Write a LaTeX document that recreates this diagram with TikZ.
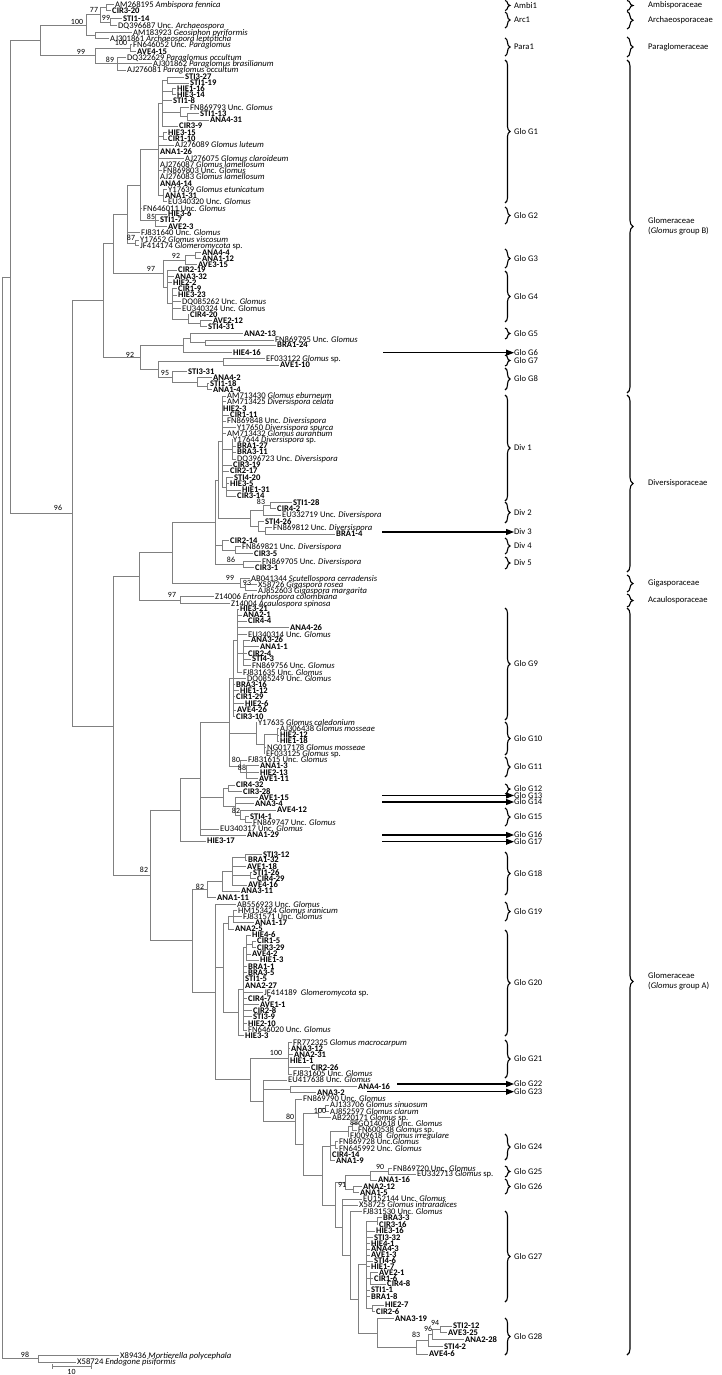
\documentclass[tikz,border=0pt]{standalone}
\usepackage{fontspec}
\setmainfont{Carlito}
\usetikzlibrary{arrows.meta,decorations.pathreplacing}

\tikzset{
  br/.style={draw=black!50,line width=0.55pt},
  leaf/.style={inner sep=0pt,font=\fontsize{8.6}{9}\selectfont},
  clone/.style={inner sep=0pt,font=\fontsize{8.6}{9}\selectfont\bfseries},
  bs/.style={inner sep=0pt,font=\fontsize{7.9}{9}\selectfont},
  glab/.style={inner sep=0pt,anchor=west,font=\fontsize{8.6}{9}\selectfont},
  flab/.style={inner sep=0pt,anchor=west,align=left,font=\fontsize{8.6}{10}\selectfont},
  gbrace/.style={decorate,decoration={brace,amplitude=5pt},line width=1.1pt},
  fbrace/.style={decorate,decoration={brace,amplitude=6pt},line width=1.1pt},
  arr/.style={line width=1.1pt,-{Triangle[length=8pt,width=6pt]}},
}

\begin{document}
\begin{tikzpicture}[x=1pt,y=-1pt]
\useasboundingbox (0,0) rectangle (722,1375);

% vertical branches
\foreach \vx/\ya/\yb in {106/4.7/10.7,110/18.3/25.3,100/7.7/21.8,95/32.7/38.7,86/14.7/35.7,130/44.3/51.3,117/57.3/70,95/47.8/63.6,40/25.2/55.7,
 167/77/83,172/88.7/94.7,187/113.3/120,180/107.3/116.7,162/80/126,163/132.7/139,163/189.3/201.7,158/103/195.5,155/214/226.7,140/149.3/220.3,135/240/245.7,127/184.8/242.8,195/252.3/258.3,185/255.3/264.3,200/320.7/326.7,188/314.3/323.7,172/288.3/319,167/270/303.7,163/259.8/286.8,113/213.8/273.3,
 205/340/345,190/333.3/342.5,183/337.9/352.7,223/358.3/365,207/383.3/389.3,197/377.3/386.3,172/371.7/381.8,158/361.7/376.8,140/345.3/369.2,103/243.5/357.3,
 232/439.3/459,226/477.7/496,222/396/486.9,270/502.7/508.3,263/505.5/515,265/527.7/534,258/521.7/530.8,250/510.3/526.3,218/441.5/518.3,235/546.7/553.3,222/540.7/550,243/561.7/567.7,215/479.9/564.7,
 245/584.3/590.7,240/578.3/587.5,180/596.7/603.3,172/522.3/583,139/552.7/600,
 243/640/665.7,237/609/672.3,233/640.7/716.7,277/728.3/741,264/734.7/753.3,256/722.3/744,246/765.7/778.3,240/760/772,229/678.7/766,
 228/785/791.7,245/816.7/822.3,240/810/819.5,235/797.7/814.8,223/788.4/806.3,200/722.4/835,180/778.7/841,
 245/854.3/860,250/872.7/878.3,232/857.2/885,222/871.1/891,207/881.1/897.7,233/910.7/922.7,228/916.7/929,252/941/947.7,246/935/960,243/947.5/1030,238/988.8/1035.7,223/922.9/1012.3,
 215/904.3/1079.5,192/889.4/991.9,150/809.9/940.7,
 288/1042.3/1074,290/1086.7/1092.7,325/1105/1111.7,318/1108.4/1117.3,352/1123.3/1130,348/1126.7/1136,335/1141.7/1148.3,330/1131.4/1160.7,388/1168.3/1174,370/1171.2/1180,353/1186.7/1192.3,345/1175.6/1189.5,
 377/1217.7/1224.3,370/1272.7/1284,372/1305/1311.5,366/1221/1308.3,440/1326/1332.4,432/1329.2/1339.5,428/1334.4/1346.7,416/1340.6/1354,377/1318.7/1347.3,358/1264.7/1333,350/1211.7/1298.9,342/1199/1255.3,335/1182.6/1227.2,322/1146.1/1204.9,303/1112.9/1175.5,295/1099/1144.2,263/1080/1121.6,250/1058.2/1100.8,
 113/576.4/875.3,72/300.4/725.9,10/40.5/513.2,2/276.9/1358.7,38/1355.5/1362}
  \draw[br] (\vx,\ya) -- (\vx,\yb);

% inner horizontal branches
\foreach \xa/\xb/\hy in {100/106/7.7,100/110/21.8,86/100/14.7,86/95/35.7,95/130/47.8,95/117/63.6,40/86/25.2,40/95/55.7,10/40/40.5,
 162/167/80,162/172/91.7,162/180/112,180/187/116.7,158/162/103,158/163/135.8,158/163/195.5,140/158/149.3,140/155/220.3,127/140/184.8,127/135/242.8,113/127/213.8,185/195/255.3,163/185/259.8,188/200/323.7,172/188/319,167/172/303.7,163/167/286.8,113/163/273.3,103/113/243.5,
 190/205/342.5,183/190/337.9,158/223/361.7,197/207/386.3,172/197/381.8,158/172/376.8,140/183/345.3,140/158/369.2,103/140/357.3,
 222/232/449.2,222/226/486.9,263/270/505.5,250/263/510.3,258/265/530.8,250/258/526.3,218/222/441.5,218/250/518.3,222/235/550,215/218/479.9,215/222/545.3,215/243/564.7,
 240/245/587.5,172/240/583,172/215/522.3,139/172/552.7,139/180/600,
 237/243/652.9,233/237/640.7,264/277/734.7,256/264/744,229/256/733.2,240/246/772,229/240/766,229/233/678.7,200/229/722.4,
 223/228/788.4,240/245/819.5,235/240/814.8,223/235/806.3,200/223/797.4,180/200/778.7,150/180/809.9,
 232/245/857.2,232/250/875.5,222/232/871.1,207/222/881.1,192/207/889.4,228/233/916.7,223/228/922.9,246/252/944.4,243/246/947.5,238/243/988.8,223/238/1012.3,215/223/967.6,215/250/1079.5,192/215/991.9,150/192/940.7,
 250/288/1058.2,263/290/1089.7,318/325/1108.4,303/318/1112.9,348/352/1126.7,330/348/1131.4,330/335/1145,322/330/1146.1,370/388/1171.2,345/370/1175.6,345/353/1189.5,335/345/1182.6,
 366/377/1221,366/370/1278.4,366/372/1308.3,432/440/1329.2,428/432/1334.4,416/428/1340.6,377/416/1347.3,358/366/1264.7,358/377/1333,350/358/1298.9,342/350/1255.3,335/342/1227.2,322/335/1204.9,303/322/1175.5,295/303/1144.2,263/295/1121.6,250/263/1100.8,
 113/139/576.4,113/150/875.3,72/103/300.4,72/113/725.9,10/72/513.2,2/10/276.9,2/38/1358.7}
  \draw[br] (\xa,\hy) -- (\xb,\hy);

% reference sequences
\foreach \px/\lx/\ly/\txt [count=\i] in {
 106/115/4.7/{AM268195 \textit{Ambispora fennica}},
 110/118/25.3/{DQ396687 Unc. \textit{Archaeospora}},
 95/133/32.7/{AM183923 \textit{Geosiphon pyriformis}},
 95/110/38.7/{AJ301861 \textit{Archaeospora leptoticha}},
 130/133/44.3/{FN646052 Unc. \textit{Paraglomus}},
 117/127/57.3/{DQ322629 \textit{Paraglomus occultum}},
 117/153/63.3/{AJ301862 \textit{Paraglomus brasilianum}},
 117/127/70/{AJ276081 \textit{Paraglomus occultum}},
 180/190/107.3/{FN869793 Unc. \textit{Glomus}},
 158/175/145/{AJ276089 \textit{Glomus luteum}},
 158/185/158.3/{AJ276075 \textit{Glomus claroideum}},
 158/160/164.3/{AJ276087 \textit{Glomus lamellosum}},
 158/163/170.7/{FN869803 Unc. \textit{Glomus}},
 158/160/176.7/{AJ276083 \textit{Glomus lamellosum}},
 163/168/189.3/{Y17639 \textit{Glomus etunicatum}},
 163/168/201.7/{EU340320 Unc. \textit{Glomus}},
 140/143/208.3/{FN646011 Unc. \textit{Glomus}},
 127/141/232.3/{FJ831640 Unc. \textit{Glomus}},
 135/140/240/{Y17652 \textit{Glomus viscosum}},
 135/140/245.7/{JF414174 \textit{Glomeromycota} sp.},
 172/182/301.7/{DQ085262 Unc. \textit{Glomus}},
 172/182/308.3/{EU340324 Unc. Glomus},
 205/275/340/{FN869795 Unc. \textit{Glomus}},
 223/266/358.3/{EF033122 \textit{Glomus} sp.},
 222/227/396/{AM713430 \textit{Glomus eburneum}},
 222/227/401.7/{AM713425 \textit{Diversispora celata}},
 222/227/421/{FN869848 Unc. \textit{Diversispora}},
 222/237/427.3/{Y17650 \textit{Diversispora spurca}},
 222/227/433.3/{AM713432 \textit{Glomus aurantium}},
 232/233/439.3/{Y17644 \textit{Diversispora} sp.},
 232/237/459/{DQ396723 Unc. \textit{Diversispora}},
 263/282/515/{EU332719 Unc. \textit{Diversispora}},
 265/273/527.7/{FN869812 Unc. \textit{Diversispora}},
 235/242/546.7/{FN869821 Unc. \textit{Diversispora}},
 243/262/561.7/{FN869705 Unc. \textit{Diversispora}},
 240/251/578.3/{AB041344 \textit{Scutellospora cerradensis}},
 245/258/584.3/{X58726 \textit{Gigaspora rosea}},
 245/258/590.7/{AJ852603 \textit{Gigaspora margarita}},
 180/215/596.7/{Z14006 \textit{Entrophospora colombiana}},
 180/231/603.3/{Z14004 \textit{Acaulospora spinosa}},
 237/248/634.3/{EU340314 Unc. \textit{Glomus}},
 243/252/665.7/{FN869756 Unc. \textit{Glomus}},
 237/243/672.3/{FJ831635 Unc. \textit{Glomus}},
 233/247/678.3/{DQ085249 Unc. \textit{Glomus}},
 256/258/722.3/{Y17635 \textit{Glomus caledonium}},
 277/280/728.3/{AJ306438 \textit{Glomus mosseae}},
 264/267/747.3/{NG017178 \textit{Glomus mosseae}},
 264/266/753.3/{EF033125 \textit{Glomus} sp.},
 240/248/760/{FJ831615 Unc. \textit{Glomus}},
 245/253/822.3/{FN869747 Unc. \textit{Glomus}},
 200/220/829/{EU340317 Unc. \textit{Glomus}},
 215/237/904.3/{AB556923 Unc. \textit{Glomus}},
 233/238/910.7/{HM153424 \textit{Glomus iranicum}},
 233/243/916.7/{FJ831571 Unc. \textit{Glomus}},
 243/264/992.3/{JF414189 \ \textit{Glomeromycota} sp.},
 243/248/1030/{FN646020 Unc. \textit{Glomus}},
 288/293/1042.3/{FR772325 \textit{Glomus macrocarpum}},
 288/293/1074/{FJ831605 Unc. \textit{Glomus}},
 263/288/1080/{EU417638 Unc. \textit{Glomus}},
 295/303/1099/{FN869790 Unc. \textit{Glomus}},
 325/330/1105/{AJ133706 \textit{Glomus sinuosum}},
 325/330/1111.7/{AJ852597 \textit{Glomus clarum}},
 318/332/1117.3/{AB220171 \textit{Glomus} sp.},
 352/358/1123.3/{GQ140618 Unc. \textit{Glomus}},
 352/358/1130/{FN600538 \textit{Glomus} sp.},
 348/350/1136/{FJ009618 \ \textit{Glomus irregulare}},
 335/339/1141.7/{FN869728 Unc.\textit{Glomus}},
 335/339/1148.3/{FN645992 Unc. \textit{Glomus}},
 388/393/1168.3/{FN869720 Unc. \textit{Glomus}},
 388/417/1174/{EU332713 \textit{Glomus} sp.},
 342/363/1199/{EU152144 Unc. \textit{Glomus}},
 342/359/1205/{X58725 \textit{Glomus intraradices}},
 350/363/1211.7/{FJ831530 Unc. \textit{Glomus}},
 38/120/1355.5/{X89436 \textit{Mortierella polycephala}},
 38/77/1362/{X58724 \textit{Endogone pisiformis}}}{
  \draw[br] (\px,\ly) -- (\lx-1,\ly);
  \node[leaf,anchor=base west] (r\i) at (\lx,\ly+2.9) {\txt};
}

% clones (bold)
\foreach \px/\lx/\ly/\txt [count=\i] in {
 106/112/10.7/CIR3-20,110/123/18.3/STI1-14,130/137/51.3/AVE4-15,
 167/185/77/STI3-27,167/190/83/STI1-19,172/177/88.7/HIE1-16,172/177/94.7/HIE3-14,162/173/100.7/STI1-8,187/200/113.3/STI1-13,187/210/120/ANA4-31,162/179/126/CIR3-9,163/168/132.7/HIE3-15,163/168/139/CIR1-10,158/160/151.7/ANA1-26,158/160/183.3/ANA4-14,163/165/195.7/ANA1-31,155/168/214/HIE3-6,155/160/220/STI1-7,155/168/226.7/AVE2-3,
 195/202/252.3/ANA4-4,195/202/258.3/ANA1-12,185/198/264.3/AVE3-15,167/178/270/CIR2-19,167/175/276.7/ANA3-32,167/173/282.3/HIE2-2,172/178/288.3/CIR1-9,172/178/295/HIE3-23,188/190/314.3/CIR4-20,200/213/320.7/AVE2-12,200/208/326.7/STI4-31,190/244/333.3/ANA2-13,205/277/345/BRA1-24,183/233/352.7/HIE4-16,223/280/365/AVE1-10,172/188/371.7/STI3-31,197/213/377.3/ANA4-2,207/210/383.3/STI1-18,207/213/389.3/ANA1-4,
 222/223/408.3/HIE2-3,222/230/415/CIR1-11,232/237/446/BRA1-27,232/237/452/BRA3-11,222/233/465/CIR3-19,222/230/471/CIR2-17,226/234/477.7/STI4-20,226/230/483.3/HIE3-5,226/242/490/HIE1-31,226/237/496/CIR3-14,270/293/502.7/STI1-28,270/277/508.3/CIR4-2,258/265/521.7/STI4-26,265/336/534/BRA1-4,222/230/540.7/CIR2-14,235/254/553.3/CIR3-5,243/255/567.7/CIR3-1,
 237/240/609/HIE3-21,237/243/615/ANA2-1,237/248/621/CIR4-4,237/290/627.7/ANA4-26,243/251/640/ANA3-26,243/260/646.7/ANA1-1,243/248/653.3/CIR2-4,243/252/659/STI4-3,233/236/684.3/BRA3-16,233/240/690.7/HIE1-12,233/236/696.7/CIR1-29,233/245/703.3/HIE2-6,233/237/710/AVE4-26,233/236/716.7/CIR3-10,277/280/735/HIE2-12,277/280/741/HIE1-18,246/260/765.7/ANA1-3,246/260/772.3/HIE2-13,246/259/778.3/AVE1-11,
 228/236/785/CIR4-32,228/243/791.7/CIR3-28,235/259/797.7/AVE1-15,235/255/803.3/ANA3-4,240/277/810/AVE4-12,245/250/816.7/STI4-1,200/247/835/ANA1-29,180/207/841/HIE3-17,
 245/263/854.3/STI3-12,245/248/860/BRA1-32,232/247/866.7/AVE1-18,250/253/872.7/STI1-26,250/257/878.3/CIR4-29,232/248/885/AVE4-16,222/241/891/ANA3-11,207/217/897.7/ANA1-11,233/255/922.7/ANA1-17,228/235/929/ANA2-5,
 246/252/935/HIE4-6,252/257/941/CIR1-5,252/257/947.7/CIR3-29,246/252/954/AVE4-2,246/260/960/HIE1-3,243/248/966.7/BRA1-1,243/248/972.7/BRA3-5,243/245/979/STI1-5,243/245/985.7/ANA2-27,243/248/998.3/CIR4-7,243/260/1004.3/AVE1-1,243/253/1010.7/CIR2-8,243/253/1016.7/STI3-9,243/248/1023.3/HIE2-10,238/245/1035.7/HIE3-3,
 288/291/1048.3/ANA3-12,288/294/1054.3/ANA2-31,288/290/1060.5/HIE1-1,288/311/1067.3/CIR2-26,290/358/1086.7/ANA4-16,290/317/1092.7/ANA3-2,330/332/1154.3/CIR4-14,330/336/1160.7/ANA1-9,370/378/1180/ANA1-16,353/363/1186.7/ANA2-12,353/360/1192.3/ANA1-5,
 377/383/1217.7/BRA3-3,377/379/1224.3/CIR3-16,366/376/1231/HIE3-16,366/374/1237.7/STI3-32,366/371/1243.3/HIE4-1,366/371/1249/ANA4-3,366/371/1255/AVE1-3,366/374/1261/STI4-6,366/371/1266.7/HIE1-7,370/379/1272.7/AVE2-1,370/374/1278.3/CIR1-6,370/387/1284/CIR4-8,366/371/1290/STI1-1,366/371/1296.7/BRA1-8,372/385/1305/HIE2-7,372/376/1311.5/CIR2-6,
 377/395/1318.7/ANA3-19,440/453/1326/STI2-12,440/448/1332.4/AVE3-25,432/465/1339.5/ANA2-28,428/444/1346.7/STI4-2,416/429/1354/AVE4-6}{
  \draw[br] (\px,\ly) -- (\lx-1,\ly);
  \node[clone,anchor=base west] (c\i) at (\lx,\ly+2.9) {\txt};
}

% bootstrap values
\foreach \bx/\by/\bv [count=\i] in {94/10/77,106/18/99,77/21.7/100,121/42.5/100,81/52/99,110/60/89,
 151/216.7/85,131/238/87,176/255.7/92,151/269/97,130/355/92,165/372.7/95,261/501.7/83,231/560/86,
 230/578/99,247/583.3/93,172/595/97,58/508/96,
 236/760/80,242/767.7/88,236/810.7/82,200/886.7/82,144/870/82,276/1053/100,320/1111/100,290/1117.3/80,354/1123/88,380/1167.3/90,342/1185/91,
 435/1323/94,428/1328.8/96,416/1335/83,25/1354.5/98}
  \node[bs] (b\i) at (\bx,\by) {\bv};

% scale bar
\draw[br] (52,1366.5) -- (91,1366.5);
\draw[br] (52,1364) -- (52,1369);
\draw[br] (91,1364) -- (91,1369);
\node[bs] (scale) at (71.5,1371.5) {10};

% groups with braces
\foreach \ya/\yb/\gl [count=\i] in {0.5/10.5/Ambi1,12/28/Arc1,38/56/Para1,60/203/Glo G1,207/224/Glo G2,249/268/Glo G3,271/322/Glo G4,328/339/Glo G5,355/366/Glo G7,368/390/Glo G8,
 395/501/Div 1,502/523/Div 2,538/554/Div 4,557/569/Div 5,608/720/Glo G9,722/755/Glo G10,757/777/Glo G11,784/794/Glo G12,808/826/Glo G15,852/895/Glo G18,902/921/Glo G19,930/1036/Glo G20,1040/1078/Glo G21,
 1134/1160/Glo G24,1166/1177/Glo G25,1179/1194/Glo G26,1211/1302/Glo G27,1318/1355/Glo G28}{
  \draw[gbrace] (505,\ya) -- (505,\yb);
  \node[glab] (g\i) at (514,{(\ya+\yb)/2}) {\gl};
}

% single clones pointed to by arrows
\foreach \sx/\ay/\gl [count=\i] in {383/352.7/Glo G6,382/532/Div 3,382/795.5/Glo G13,382/802/Glo G14,382/835/Glo G16,382/841.7/Glo G17,397/1084/Glo G22,367/1091.7/Glo G23}{
  \node[glab] (a\i) at (514,\ay) {\gl};
  \draw[arr] (\sx,\ay) -- (a\i.west);
}

% families
\foreach \ya/\yb/\fl [count=\i] in {0.5/10.5/Ambisporaceae,11.5/29/Archaeosporaceae,37/57/Paraglomeraceae,60/393/{Glomeraceae\\(\textit{Glomus} group B)},
 395/572/Diversisporaceae,575/592/Gigasporaceae,594/607/Acaulosporaceae,608/1355/{Glomeraceae\\(\textit{Glomus} group A)}}{
  \draw[fbrace] (627,\ya) -- (627,\yb);
  \node[flab] (f\i) at (648,{(\ya+\yb)/2}) {\fl};
}
\end{tikzpicture}
\end{document}
